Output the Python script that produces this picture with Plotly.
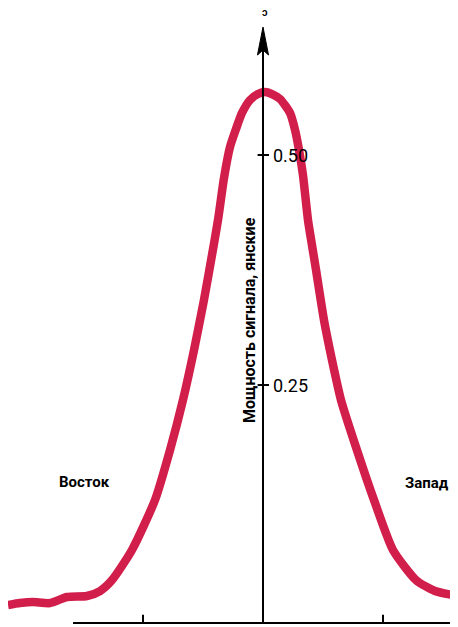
import plotly.graph_objects as go

# Curve data (x: position in beam units, y: signal power in jansky)
pos = [-2.125, -2.025, -1.917, -1.775, -1.633, -1.467, -1.358, -1.258, -1.092, -0.900,
       -0.775, -0.667, -0.575, -0.492, -0.425, -0.375, -0.325, -0.275, -0.225, -0.175,
       -0.108, -0.042, 0.017, 0.075, 0.142, 0.225, 0.267, 0.300, 0.333, 0.375,
       0.408, 0.442, 0.508, 0.575, 0.650, 0.783, 0.925, 1.083, 1.275, 1.433, 1.625]
power = [0.0109, 0.0130, 0.0141, 0.0130, 0.0196, 0.0207, 0.0261, 0.0380, 0.0707, 0.1250,
         0.1793, 0.2337, 0.2880, 0.3424, 0.3913, 0.4293, 0.4750, 0.5087, 0.5283, 0.5457,
         0.5598, 0.5663, 0.5685, 0.5663, 0.5609, 0.5457, 0.5272, 0.5054, 0.4783, 0.4293,
         0.4022, 0.3750, 0.3207, 0.2772, 0.2337, 0.1793, 0.1250, 0.0707, 0.0380, 0.0261,
         0.0207]

y_ticks = [0.25, 0.50]
y_tick_labels = ["0.25", "0.50"]
x_ticks = [-1, 1]
y_title = "Мощность сигнала, янские"
left_label = "Восток"
right_label = "Запад"

# page is offset by the default 8px body margin, so figure is 450x619 to fill the window
X_MIN, X_MAX = -2.125, 1.625
Y_MIN, Y_MAX = -0.013, 0.6598
AX_Y = -0.0087
AX_X0 = -1.583
ARROW_TOP = 0.6391
ARROW_BASE = 0.6087
ARROW_NOTCH = 0.6141

fig = go.Figure()
fig.add_trace(go.Scatter(x=pos, y=power, mode="lines",
                         line=dict(color="#D21E4A", width=8.5, shape="spline", smoothing=0.6),
                         hoverinfo="skip", showlegend=False))

shapes = []
shapes.append(dict(type="line", xref="x", yref="y", x0=AX_X0, x1=X_MAX, y0=AX_Y, y1=AX_Y,
                   line=dict(color="black", width=2)))
shapes.append(dict(type="line", xref="x", yref="y", x0=0, x1=0, y0=AX_Y, y1=ARROW_NOTCH,
                   line=dict(color="black", width=2)))
shapes.append(dict(type="path", xref="x", yref="y",
                   path=(f"M 0,{ARROW_TOP} L -0.046,{ARROW_BASE} L 0,{ARROW_NOTCH} "
                         f"L 0.046,{ARROW_BASE} Z"),
                   fillcolor="black", line=dict(color="black", width=1)))
for t in y_ticks:
    shapes.append(dict(type="line", xref="x", yref="y", x0=-0.045, x1=0.05, y0=t, y1=t,
                       line=dict(color="black", width=2)))
for t in x_ticks:
    shapes.append(dict(type="line", xref="x", yref="y", x0=t, x1=t, y0=AX_Y, y1=AX_Y + 0.009,
                       line=dict(color="black", width=2)))

annotations = []
font_main = "Liberation Sans Narrow, Roboto, sans-serif"
for t, lab in zip(y_ticks, y_tick_labels):
    annotations.append(dict(x=0.07, y=t, xref="x", yref="y", text=lab, showarrow=False,
                            xanchor="left", yanchor="middle",
                            font=dict(family=font_main, size=18, color="black")))
annotations.append(dict(x=-0.108, y=0.3207, xref="x", yref="y", text="<b>" + y_title + "</b>",
                        showarrow=False, textangle=-90, xanchor="center", yanchor="middle",
                        font=dict(family=font_main, size=16, color="black")))
annotations.append(dict(x=-1.49, y=0.145, xref="x", yref="y", text="<b>" + left_label + "</b>",
                        showarrow=False, xanchor="center", yanchor="middle",
                        font=dict(family=font_main, size=15, color="black")))
annotations.append(dict(x=1.367, y=0.143, xref="x", yref="y", text="<b>" + right_label + "</b>",
                        showarrow=False, xanchor="center", yanchor="middle",
                        font=dict(family=font_main, size=15, color="black")))
annotations.append(dict(x=0.02, y=0.655, xref="x", yref="y", text="<b>ɔ</b>", showarrow=False,
                        xanchor="center", yanchor="middle",
                        font=dict(family=font_main, size=10, color="black")))

fig.update_layout(
    width=450, height=619,
    margin=dict(l=0, r=0, t=0, b=0),
    paper_bgcolor="white", plot_bgcolor="white",
    xaxis=dict(range=[X_MIN, X_MAX], visible=False, fixedrange=True),
    yaxis=dict(range=[Y_MIN, Y_MAX], visible=False, fixedrange=True),
    shapes=shapes, annotations=annotations,
)
fig.write_html("out.html")
